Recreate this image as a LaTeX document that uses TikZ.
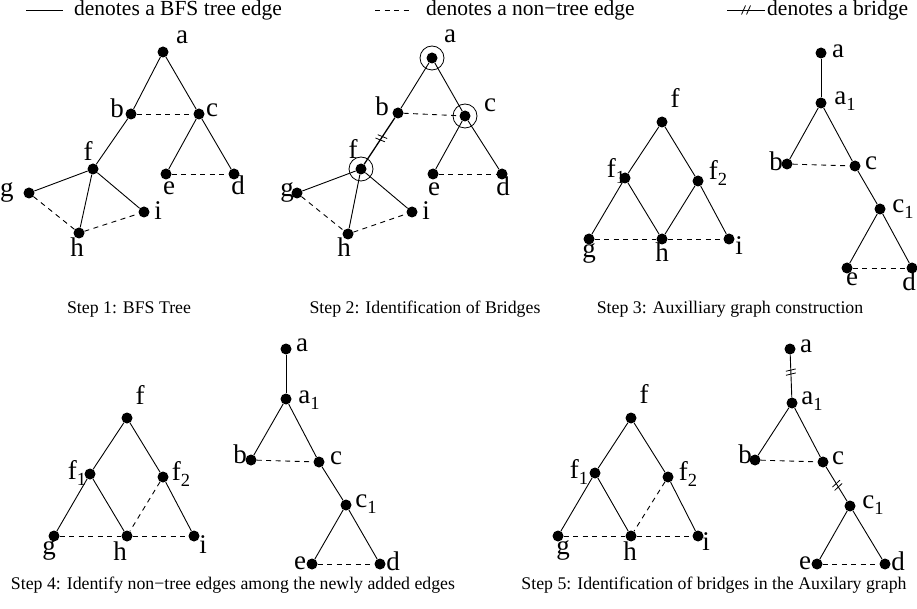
\documentclass[tikz,border=0pt]{standalone}
\usepackage{fontspec}
\setmainfont{Liberation Serif}
\usetikzlibrary{decorations.markings}

% lowered subscript for vertex names such as f1, a1, c1
\newcommand\lsub[1]{\raisebox{-6pt}{\fontsize{18.5}{18.5}\selectfont #1}}

\tikzset{
  vtx/.style={circle,fill=black,inner sep=0pt,minimum size=11pt},
  lbl/.style={inner sep=0pt,anchor=mid,font=\fontsize{27}{27}\selectfont},
  tree/.style={draw=black,line width=0.9pt},
  nontree/.style={draw=black,line width=0.9pt,dash pattern=on 5pt off 4.5pt},
  ring/.style={draw=black,line width=0.8pt,circle,fill=none,inner sep=0pt,minimum size=24pt},
  marktick/.style={draw=black,line width=0.8pt,solid},
  bridgemark/.style={postaction={decorate,decoration={markings,
      mark=at position #1 with {\draw[marktick] (-1.5pt,-5pt) -- (-3.5pt,5pt);
                                \draw[marktick] (2.5pt,-5pt) -- (0.5pt,5pt);}}}},
  bridgesign/.style={postaction={decorate,decoration={markings,
      mark=at position #1 with {\draw[marktick] (-4.5pt,-4.5pt) -- (-0.5pt,4.5pt);
                                \draw[marktick] (0.5pt,-4.5pt) -- (4.5pt,4.5pt);}}}},
  caption/.style={inner sep=0pt,anchor=base,font=\fontsize{17.8}{17.8}\selectfont},
  legendtext/.style={inner sep=0pt,anchor=base west,font=\fontsize{21.5}{21.5}\selectfont}
}

\begin{document}
\begin{tikzpicture}[x=1pt,y=-1pt]
\useasboundingbox (0,0) rectangle (917,609);
\fill[white] (0,0) rectangle (917,609);

% ---------- legend ----------
\coordinate (lgA1) at (26,10);  \coordinate (lgA2) at (63,10);
\coordinate (lgB1) at (375,10); \coordinate (lgB2) at (413,10);
\coordinate (lgC1) at (727,10); \coordinate (lgC2) at (765,10);
\draw[tree] (lgA1) -- (lgA2);
\draw[nontree] (lgB1) -- (lgB2);
\draw[tree,bridgesign=0.5] (lgC1) -- (lgC2);
\node[legendtext] (lgAt) at (74,16) {denotes a BFS tree edge};
\node[legendtext] (lgBt) at (426,16) {denotes a non−tree edge};
\node[legendtext] (lgCt) at (767,16) {denotes a bridge};

% ---------- Step 1: BFS tree ----------
\node[vtx] (s1a) at (163,52) {};
\node[vtx] (s1b) at (131,114) {};
\node[vtx] (s1c) at (199,114) {};
\node[vtx] (s1f) at (93,169) {};
\node[vtx] (s1e) at (166,174) {};
\node[vtx] (s1d) at (234,174) {};
\node[vtx] (s1g) at (29,193) {};
\node[vtx] (s1i) at (144,212) {};
\node[vtx] (s1h) at (79,233) {};
\node[lbl] (s1al) at (182,41) {a};
\node[lbl] (s1bl) at (117,115) {b};
\node[lbl] (s1cl) at (212,114) {c};
\node[lbl] (s1fl) at (88,158) {f};
\node[lbl] (s1el) at (169,192) {e};
\node[lbl] (s1dl) at (238,192) {d};
\node[lbl] (s1gl) at (7,194) {g};
\node[lbl] (s1il) at (158,217) {i};
\node[lbl] (s1hl) at (77,254) {h};
\draw[tree] (s1a) -- (s1b);
\draw[tree] (s1a) -- (s1c);
\draw[tree] (s1b) -- (s1f);
\draw[tree] (s1c) -- (s1e);
\draw[tree] (s1c) -- (s1d);
\draw[tree] (s1f) -- (s1g);
\draw[tree] (s1f) -- (s1h);
\draw[tree] (s1f) -- (s1i);
\draw[nontree] (s1b) -- (s1c);
\draw[nontree] (s1e) -- (s1d);
\draw[nontree] (s1g) -- (s1h);
\draw[nontree] (s1h) -- (s1i);
\node[caption] (cap1) at (129,313) {Step 1: BFS Tree};

% ---------- Step 2: identification of bridges ----------
\node[vtx] (s2a) at (432,58) {};
\node[vtx] (s2b) at (398,113) {};
\node[vtx] (s2c) at (465,116) {};
\node[vtx] (s2f) at (361,169) {};
\node[vtx] (s2e) at (433,174) {};
\node[vtx] (s2d) at (502,174) {};
\node[vtx] (s2g) at (297,193) {};
\node[vtx] (s2i) at (412,212) {};
\node[vtx] (s2h) at (348,234) {};
\node[ring] (s2ra) at (s2a) {};
\node[ring] (s2rc) at (s2c) {};
\node[ring] (s2rf) at (s2f) {};
\node[lbl] (s2al) at (450,40) {a};
\node[lbl] (s2bl) at (382,113) {b};
\node[lbl] (s2cl) at (490,109) {c};
\node[lbl] (s2fl) at (353,156) {f};
\node[lbl] (s2el) at (434,193) {e};
\node[lbl] (s2dl) at (503,193) {d};
\node[lbl] (s2gl) at (287,194) {g};
\node[lbl] (s2il) at (426,217) {i};
\node[lbl] (s2hl) at (344,254) {h};
\draw[tree] (s2a) -- (s2b);
\draw[tree] (s2a) -- (s2c);
\draw[tree,line width=1.3pt,bridgemark=0.45] (s2b) -- (s2f);
\draw[tree] (s2c) -- (s2e);
\draw[tree] (s2c) -- (s2d);
\draw[tree] (s2f) -- (s2g);
\draw[tree] (s2f) -- (s2h);
\draw[tree] (s2f) -- (s2i);
\draw[nontree] (s2b) -- (s2c);
\draw[nontree] (s2e) -- (s2d);
\draw[nontree] (s2g) -- (s2h);
\draw[nontree] (s2h) -- (s2i);
\node[caption] (cap2) at (425,313) {Step 2: Identification of Bridges};

% ---------- Step 3: auxiliary graph ----------
\node[vtx] (s3f) at (662,122) {};
\node[vtx] (s3f1) at (625,178) {};
\node[vtx] (s3f2) at (698,181) {};
\node[vtx] (s3g) at (589,239) {};
\node[vtx] (s3h) at (662,239) {};
\node[vtx] (s3i) at (729,239) {};
\node[lbl] (s3fl) at (675,105) {f};
\node[lbl] (s3f1l) at (616,175) {f\lsub{1}};
\node[lbl] (s3f2l) at (718,177) {f\lsub{2}};
\node[lbl] (s3gl) at (589,255) {g};
\node[lbl] (s3hl) at (662,259) {h};
\node[lbl] (s3il) at (739,252) {i};
\draw[tree] (s3f) -- (s3f1);
\draw[tree] (s3f) -- (s3f2);
\draw[tree] (s3f1) -- (s3g);
\draw[tree] (s3f1) -- (s3h);
\draw[tree] (s3f2) -- (s3h);
\draw[tree] (s3f2) -- (s3i);
\draw[nontree] (s3g) -- (s3h);
\draw[nontree] (s3h) -- (s3i);

\node[vtx] (s3a) at (821,53) {};
\node[vtx] (s3a1) at (821,103) {};
\node[vtx] (s3b) at (787,164) {};
\node[vtx] (s3c) at (855,166) {};
\node[vtx] (s3c1) at (880,209) {};
\node[vtx] (s3e) at (847,268) {};
\node[vtx] (s3d) at (912,268) {};
\node[lbl] (s3al) at (838,55) {a};
\node[lbl] (s3a1l) at (845,102) {a\lsub{1}};
\node[lbl] (s3bl) at (776,168) {b};
\node[lbl] (s3cl) at (871,167) {c};
\node[lbl] (s3c1l) at (903,210) {c\lsub{1}};
\node[lbl] (s3el) at (852,283) {e};
\node[lbl] (s3dl) at (909,288) {d};
\draw[tree] (s3a) -- (s3a1);
\draw[tree] (s3a1) -- (s3b);
\draw[tree] (s3a1) -- (s3c);
\draw[tree] (s3c) -- (s3c1);
\draw[tree] (s3c1) -- (s3e);
\draw[tree] (s3c1) -- (s3d);
\draw[nontree] (s3b) -- (s3c);
\draw[nontree] (s3e) -- (s3d);
\node[caption] (cap3) at (730,313) {Step 3: Auxilliary graph construction};

% ---------- Step 4: non-tree edges among the new edges ----------
\node[vtx] (s4f) at (127,418) {};
\node[vtx] (s4f1) at (90,474) {};
\node[vtx] (s4f2) at (163,477) {};
\node[vtx] (s4g) at (54,536) {};
\node[vtx] (s4h) at (127,536) {};
\node[vtx] (s4i) at (194,536) {};
\node[lbl] (s4fl) at (140,402) {f};
\node[lbl] (s4f1l) at (77,477) {f\lsub{1}};
\node[lbl] (s4f2l) at (181,478) {f\lsub{2}};
\node[lbl] (s4gl) at (49,552) {g};
\node[lbl] (s4hl) at (120,558) {h};
\node[lbl] (s4il) at (203,551) {i};
\draw[tree] (s4f) -- (s4f1);
\draw[tree] (s4f) -- (s4f2);
\draw[tree] (s4f1) -- (s4g);
\draw[tree] (s4f1) -- (s4h);
\draw[tree] (s4f2) -- (s4i);
\draw[nontree] (s4f2) -- (s4h);
\draw[nontree] (s4g) -- (s4h);
\draw[nontree] (s4h) -- (s4i);

\node[vtx] (s4a) at (286,349) {};
\node[vtx] (s4a1) at (286,399) {};
\node[vtx] (s4b) at (251,460) {};
\node[vtx] (s4c) at (319,462) {};
\node[vtx] (s4c1) at (346,505) {};
\node[vtx] (s4e) at (312,564) {};
\node[vtx] (s4d) at (380,564) {};
\node[lbl] (s4al) at (302,349) {a};
\node[lbl] (s4a1l) at (309,401) {a\lsub{1}};
\node[lbl] (s4bl) at (240,461) {b};
\node[lbl] (s4cl) at (336,462) {c};
\node[lbl] (s4c1l) at (366,505) {c\lsub{1}};
\node[lbl] (s4el) at (300,567) {e};
\node[lbl] (s4dl) at (393,568) {d};
\draw[tree] (s4a) -- (s4a1);
\draw[tree] (s4a1) -- (s4b);
\draw[tree] (s4a1) -- (s4c);
\draw[tree] (s4c) -- (s4c1);
\draw[tree] (s4c1) -- (s4e);
\draw[tree] (s4c1) -- (s4d);
\draw[nontree] (s4b) -- (s4c);
\draw[nontree] (s4e) -- (s4d);
\node[caption] (cap4) at (233,589) {Step 4: Identify non−tree edges among the newly added edges};

% ---------- Step 5: bridges in the auxiliary graph ----------
\node[vtx] (s5f) at (631,418) {};
\node[vtx] (s5f1) at (595,473) {};
\node[vtx] (s5f2) at (668,477) {};
\node[vtx] (s5g) at (558,536) {};
\node[vtx] (s5h) at (631,536) {};
\node[vtx] (s5i) at (698,536) {};
\node[lbl] (s5fl) at (644,401) {f};
\node[lbl] (s5f1l) at (579,476) {f\lsub{1}};
\node[lbl] (s5f2l) at (688,478) {f\lsub{2}};
\node[lbl] (s5gl) at (563,552) {g};
\node[lbl] (s5hl) at (630,558) {h};
\node[lbl] (s5il) at (706,548) {i};
\draw[tree] (s5f) -- (s5f1);
\draw[tree] (s5f) -- (s5f2);
\draw[tree] (s5f1) -- (s5g);
\draw[tree] (s5f1) -- (s5h);
\draw[tree] (s5f2) -- (s5i);
\draw[nontree] (s5f2) -- (s5h);
\draw[nontree] (s5g) -- (s5h);
\draw[nontree] (s5h) -- (s5i);

\node[vtx] (s5a) at (790,349) {};
\node[vtx] (s5a1) at (792,403) {};
\node[vtx] (s5b) at (755,460) {};
\node[vtx] (s5c) at (823,462) {};
\node[vtx] (s5c1) at (850,506) {};
\node[vtx] (s5e) at (817,564) {};
\node[vtx] (s5d) at (885,564) {};
\node[lbl] (s5al) at (806,350) {a};
\node[lbl] (s5a1l) at (812,402) {a\lsub{1}};
\node[lbl] (s5bl) at (745,461) {b};
\node[lbl] (s5cl) at (838,462) {c};
\node[lbl] (s5c1l) at (873,506) {c\lsub{1}};
\node[lbl] (s5el) at (805,567) {e};
\node[lbl] (s5dl) at (898,568) {d};
\draw[tree,bridgemark=0.42] (s5a) -- (s5a1);
\draw[tree] (s5a1) -- (s5b);
\draw[tree] (s5a1) -- (s5c);
\draw[tree,bridgemark=0.55] (s5c) -- (s5c1);
\draw[tree] (s5c1) -- (s5e);
\draw[tree] (s5c1) -- (s5d);
\draw[nontree] (s5b) -- (s5c);
\draw[nontree] (s5e) -- (s5d);
\node[caption] (cap5) at (714,589) {Step 5: Identification of bridges in the Auxilary graph};
\end{tikzpicture}
\end{document}
